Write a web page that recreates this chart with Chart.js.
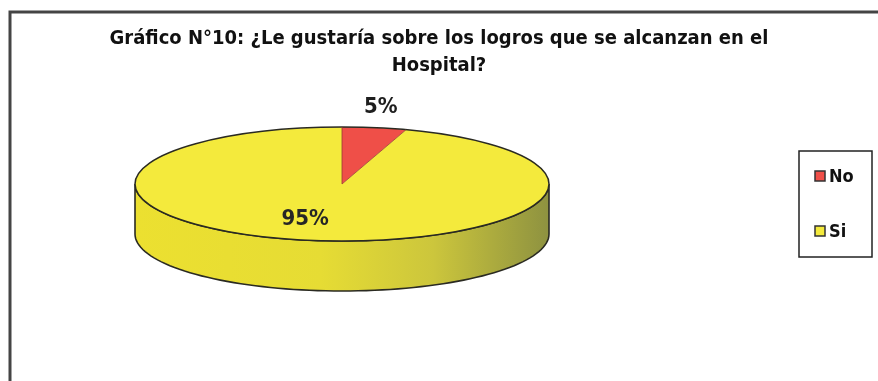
<!DOCTYPE html>
<html><head><meta charset="utf-8">
<script src="https://cdn.jsdelivr.net/npm/chart.js@4.4.1/dist/chart.umd.min.js"></script>
<style>html,body{margin:0;padding:0;background:#fff;}#wrap{width:878px;height:381px;position:relative;}</style>
</head><body><div id="wrap"><canvas id="c" width="878" height="381"></canvas></div>
<script>
const titleLines = ['Gráfico N°10: ¿Le gustaría sobre los logros que se alcanzan en el', 'Hospital?'];
const labels = ['No', 'Si'];
const values = [5, 95];
const colors = ['#EF4F48', '#F4EA3C'];

const FONT = "'Liberation Sans Narrow','Arial Narrow','DejaVu Sans Condensed',sans-serif";
const G = {cx: 342, cy: 184, rx: 207, ry: 57, depth: 50};

const pie3d = {
  id: 'pie3d',
  beforeDraw(chart) {
    const ctx = chart.ctx;
    ctx.save();
    ctx.strokeStyle = '#444';
    ctx.lineWidth = 3;
    ctx.beginPath();
    ctx.moveTo(8.5, 12); ctx.lineTo(878, 12);
    ctx.moveTo(10, 10.5); ctx.lineTo(10, 381);
    ctx.stroke();
    ctx.restore();
  },
  beforeDatasetsDraw(chart) {
    const ctx = chart.ctx;
    const meta = chart.getDatasetMeta(0);
    const a0 = meta.data[0].getProps(['x', 'y', 'outerRadius'], true);
    meta.data.forEach((arc, i) => {
      const p = arc.getProps(['startAngle', 'endAngle'], true);
      const ranges = [[Math.max(p.startAngle, 0), Math.min(p.endAngle, Math.PI)],
                      [Math.max(p.startAngle, 2*Math.PI), Math.min(p.endAngle, 3*Math.PI)]];
      ranges.forEach(([s, e]) => {
        if (e <= s) return;
        const grad = ctx.createLinearGradient(G.cx - G.rx, 0, G.cx + G.rx, 0);
        if (i === 1) {
          grad.addColorStop(0, '#ECE030');
          grad.addColorStop(0.45, '#E6DC34');
          grad.addColorStop(0.72, '#CCC63C');
          grad.addColorStop(1, '#8E9240');
        } else {
          grad.addColorStop(0, '#C84038'); grad.addColorStop(1, '#8A3028');
        }
        ctx.save();
        ctx.beginPath();
        const N = 80;
        for (let k = 0; k <= N; k++) {
          const t = s + (e - s) * k / N;
          const x = G.cx + G.rx * Math.cos(t), y = G.cy + G.ry * Math.sin(t);
          k === 0 ? ctx.moveTo(x, y) : ctx.lineTo(x, y);
        }
        for (let k = N; k >= 0; k--) {
          const t = s + (e - s) * k / N;
          ctx.lineTo(G.cx + G.rx * Math.cos(t), G.cy + G.depth + G.ry * Math.sin(t));
        }
        ctx.closePath();
        ctx.fillStyle = grad;
        ctx.fill();
        ctx.strokeStyle = '#2a2a22';
        ctx.lineWidth = 1.6;
        ctx.stroke();
        ctx.restore();
      });
    });
    ctx.save();
    ctx.translate(G.cx, G.cy);
    ctx.scale(G.rx / a0.outerRadius, G.ry / a0.outerRadius);
    ctx.translate(-a0.x, -a0.y);
  },
  afterDatasetsDraw(chart) {
    const ctx = chart.ctx;
    ctx.restore();
    const meta = chart.getDatasetMeta(0);
    ctx.save();
    ctx.strokeStyle = '#2a2a22';
    ctx.lineWidth = 1.5;
    ctx.beginPath();
    ctx.ellipse(G.cx, G.cy, G.rx, G.ry, 0, 0, Math.PI * 2);
    ctx.stroke();
    const p = meta.data[0].getProps(['startAngle', 'endAngle'], true);
    ctx.strokeStyle = '#9a3a30';
    ctx.lineWidth = 0.8;
    ctx.beginPath();
    ctx.moveTo(G.cx + G.rx * Math.cos(p.startAngle), G.cy + G.ry * Math.sin(p.startAngle));
    ctx.lineTo(G.cx, G.cy);
    ctx.lineTo(G.cx + G.rx * Math.cos(p.endAngle), G.cy + G.ry * Math.sin(p.endAngle));
    ctx.stroke();
    const total = values.reduce((a, b) => a + b, 0);
    ctx.textAlign = 'center';
    ctx.textBaseline = 'middle';
    meta.data.forEach((arc, i) => {
      const q = arc.getProps(['startAngle', 'endAngle'], true);
      const mid = (q.startAngle + q.endAngle) / 2;
      const small = values[i] / total < 0.2;
      const fx = small ? 1.2 : 1.14, fy = small ? 1.37 : 0.62;
      const x = G.cx + G.rx * fx * Math.cos(mid);
      const y = G.cy + G.ry * fy * Math.sin(mid);
      ctx.font = "bold 22px " + FONT;
      ctx.fillStyle = small ? '#1e1e1e' : '#262626';
      ctx.fillText(Math.round(values[i] / total * 100) + '%', x, y);
    });
    ctx.restore();
  },
  afterDraw(chart) {
    const ctx = chart.ctx;
    ctx.save();
    ctx.strokeStyle = '#222';
    ctx.lineWidth = 1.5;
    ctx.strokeRect(799, 151, 73, 106);
    ctx.font = "bold 18px " + FONT;
    ctx.textBaseline = 'middle';
    ctx.textAlign = 'left';
    labels.forEach((l, i) => {
      const y = 176 + i * 55;
      ctx.fillStyle = colors[i];
      ctx.fillRect(815, y - 5, 10, 10);
      ctx.strokeStyle = '#333';
      ctx.lineWidth = 1.5;
      ctx.strokeRect(815, y - 5, 10, 10);
      ctx.fillStyle = '#111';
      ctx.fillText(l, 829, y + 1);
    });
    ctx.restore();
  }
};

new Chart(document.getElementById('c'), {
  type: 'pie',
  data: {labels: labels, datasets: [{data: values, backgroundColor: colors, borderWidth: 0}]},
  options: {
    responsive: false,
    animation: false,
    events: [],
    layout: {padding: {top: 25, bottom: 10, left: 10, right: 10}},
    plugins: {
      legend: {display: false},
      tooltip: {enabled: false},
      title: {display: true, text: titleLines, color: '#111',
        font: {family: FONT, size: 20, weight: 'bold', lineHeight: 1.35},
        padding: {top: 0, bottom: 10}}
    }
  },
  plugins: [pie3d]
});
</script></body></html>
